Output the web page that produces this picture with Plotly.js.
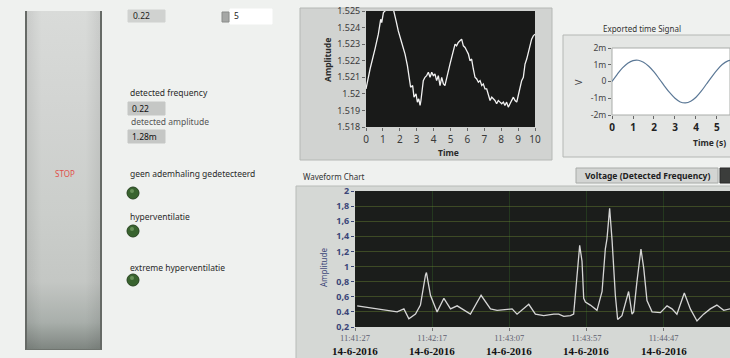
<!DOCTYPE html>
<html><head><meta charset="utf-8">
<script src="https://cdn.plot.ly/plotly-3.0.1.min.js"></script>
<style>
html,body{margin:0;padding:0;background:#eff1ef;width:730px;height:358px;overflow:hidden;}
#stop{position:absolute;left:25px;top:11px;width:77px;height:339px;box-sizing:border-box;border-left:2px solid #666a66;border-right:2px solid #666a66;border-bottom:1px solid #6f746f;
background:linear-gradient(to right,rgba(0,0,0,0.07),rgba(0,0,0,0) 20%,rgba(0,0,0,0) 80%,rgba(0,0,0,0.07)),
linear-gradient(to bottom,#d9dbd9 0%,#d2d4d2 30%,#cbcecb 60%,#c4c7c4 80%,#a9afab 92%,#7f8681 100%);}
#chart{position:absolute;left:0;top:0;width:730px;height:358px;}
</style></head><body>
<div id="stop"></div>
<div id="chart"></div>
<script>
// ---- Top graph: Amplitude vs Time ----
const topTime = [0.00,0.24,0.53,0.73,0.87,0.93,1.03,1.22,1.42,1.62,1.78,1.91,2.11,2.21,2.31,2.45,2.56,2.64,2.76,2.84,2.96,3.04,3.12,3.20,3.25,3.31,3.39,3.49,3.59,3.69,3.79,3.89,3.98,4.08,4.18,4.28,4.38,4.48,4.58,4.67,4.77,4.87,4.97,5.07,5.17,5.27,5.36,5.46,5.56,5.66,5.76,5.86,5.96,6.06,6.15,6.25,6.35,6.45,6.55,6.65,6.75,6.85,6.94,7.04,7.14,7.24,7.34,7.44,7.53,7.63,7.73,7.83,7.93,8.03,8.13,8.22,8.32,8.42,8.52,8.62,8.72,8.82,8.92,9.01,9.11,9.21,9.31,9.41,9.51,9.61,9.70,9.80,9.90,10.00];
const topAmp = [1.5203,1.5215,1.5227,1.5236,1.5245,1.5243,1.5249,1.5251,1.5256,1.5251,1.5244,1.5238,1.5231,1.5228,1.5224,1.5217,1.5208,1.5204,1.5205,1.5198,1.5200,1.5195,1.5197,1.5193,1.5196,1.5202,1.5208,1.5210,1.5211,1.5213,1.5210,1.5213,1.5211,1.5212,1.5208,1.5211,1.5205,1.5210,1.5206,1.5205,1.5210,1.5213,1.5218,1.5222,1.5227,1.5230,1.5229,1.5231,1.5232,1.5233,1.5229,1.5228,1.5226,1.5224,1.5220,1.5221,1.5215,1.5210,1.5209,1.5207,1.5208,1.5205,1.5206,1.5203,1.5203,1.5200,1.5196,1.5198,1.5197,1.5196,1.5194,1.5196,1.5195,1.5194,1.5195,1.5193,1.5195,1.5192,1.5194,1.5196,1.5198,1.5196,1.5195,1.5199,1.5204,1.5208,1.5210,1.5218,1.5221,1.5225,1.5229,1.5233,1.5235,1.5236];
const topXTicks = [0,1,2,3,4,5,6,7,8,9,10];
const topYTicks = [1.518,1.519,1.52,1.521,1.522,1.523,1.524,1.525];
const topYTickText = ["1.518","1.519","1.52","1.521","1.522","1.523","1.524","1.525"];

// ---- Exported time Signal ----
const expTime = [0,0.25,0.5,0.75,1.0,1.25,1.5,1.75,2.0,2.25,2.5,2.75,3.0,3.25,3.5,3.75,4.0,4.25,4.5,4.75,5.0,5.25,5.5,5.75];
const expVolt = [0,0.00043,0.00081,0.00109,0.00125,0.00127,0.00115,0.00091,0.00057,0.00016,-0.00027,-0.00067,-0.00100,-0.00122,-0.00128,-0.00118,-0.00094,-0.00058,-0.00015,0.00028,0.00068,0.00101,0.00122,0.00128];
const expXTicks = [0,1,2,3,4,5];
const expYTicks = [-0.002,-0.001,0,0.001,0.002];
const expYTickText = ["-2m","-1m","0","1m","2m"];

// ---- Waveform Chart ----
const waveSec = [1.4,23.0,27.3,31.7,34.9,39.2,42.4,45.7,46.3,48.9,53.2,57.6,61.9,66.2,70.5,74.8,81.7,87.8,92.1,98.6,101.8,105.0,112.6,116.9,122.3,128.8,132.0,135.3,139.6,141.7,143.9,145.6,147.1,148.2,149.3,152.5,156.8,160.1,162.2,163.3,165.0,166.6,168.7,170.2,173.0,177.3,179.5,180.6,182.7,185.3,187.1,189.2,192.5,197.9,202.2,205.4,208.6,213.4,217.3,221.6,225.9,230.2,234.5,238.9,243.2];
const waveAmp = [0.48,0.41,0.40,0.44,0.31,0.37,0.49,0.89,0.92,0.62,0.40,0.58,0.44,0.48,0.42,0.37,0.62,0.44,0.42,0.44,0.44,0.37,0.50,0.37,0.35,0.37,0.37,0.34,0.35,0.37,0.89,1.28,1.07,0.58,0.53,0.49,0.42,0.67,1.23,1.37,1.77,1.34,0.62,0.30,0.35,0.67,0.37,0.40,0.80,1.23,0.98,0.55,0.40,0.39,0.48,0.44,0.37,0.65,0.44,0.28,0.37,0.44,0.49,0.42,0.44];
const waveXTicks = [0,50,100,150,200,250];
const waveClock = ["11:41:27","11:42:17","11:43:07","11:43:57","11:44:47","11:45:37"];
const waveDate = ["14-6-2016","14-6-2016","14-6-2016","14-6-2016","14-6-2016","14-6-2016"];
const waveYTicks = [0.2,0.4,0.6,0.8,1,1.2,1.4,1.6,1.8,2];
const waveYTickText = ["0,2","0.4","0,6","0,8","1","1,2","1,4","1,6","1,8","2"];

// ---- Indicator values ----
const topControlValue = "0.22";
const topControlCount = "5";
const detectedFrequency = "0.22";
const detectedAmplitude = "1.28m";
const ledLabels = ["geen ademhaling gedetecteerd","hyperventilatie","extreme hyperventilatie"];

// ---- helpers (pixel -> paper) ----
const W = 730, H = 358;
const px = x => x / W;
const py = y => 1 - y / H;
const FONT = "Noto Sans, DejaVu Sans, sans-serif";

const traces = [
  {x: topTime, y: topAmp, xaxis: 'x', yaxis: 'y', mode: 'lines', type: 'scatter',
   line: {color: '#f2f2f2', width: 1.3}, hoverinfo: 'skip'},
  {x: expTime, y: expVolt, xaxis: 'x2', yaxis: 'y2', mode: 'lines', type: 'scatter',
   line: {color: '#5b7896', width: 1.2, shape: 'spline'}, hoverinfo: 'skip'},
  {x: waveSec, y: waveAmp, xaxis: 'x3', yaxis: 'y3', mode: 'lines', type: 'scatter',
   line: {color: '#d6d6d6', width: 1.3}, hoverinfo: 'skip'}
];

function rect(x0, y0, x1, y1, fill, line, lw) {
  return {type: 'rect', xref: 'paper', yref: 'paper', x0: px(x0), x1: px(x1), y0: py(y1), y1: py(y0),
    fillcolor: fill, line: {color: line || fill, width: lw === undefined ? 1 : lw}, layer: 'below'};
}
function led(cx, cy) {
  return [
    {type: 'circle', xref: 'paper', yref: 'paper', x0: px(cx - 6), x1: px(cx + 6), y0: py(cy + 6), y1: py(cy - 6),
     fillcolor: '#38632e', line: {color: '#26431f', width: 1}, layer: 'above'},
    {type: 'circle', xref: 'paper', yref: 'paper', x0: px(cx - 3), x1: px(cx + 1), y0: py(cy + 0), y1: py(cy - 4),
     fillcolor: 'rgba(150,190,130,0.5)', line: {width: 0}, layer: 'above'}
  ];
}

const shapes = [
  rect(300, 8, 552, 160, '#d1d3d1', '#b5b8b5'),
  {type: 'rect', xref: 'x domain', yref: 'y domain', x0: 0, x1: 1, y0: 0, y1: 1, fillcolor: '#191a19', line: {width: 0}, layer: 'below'},
  rect(563, 35, 736, 157, '#e4e6e4', '#b4b7b4'),
  {type: 'rect', xref: 'x2 domain', yref: 'y2 domain', x0: 0, x1: 1, y0: 0, y1: 1, fillcolor: '#ffffff', line: {color: '#a9aca9', width: 1}, layer: 'below'},
  rect(296, 186, 736, 362, '#d5d8d5', '#b8bbb8'),
  {type: 'rect', xref: 'x3 domain', yref: 'y3 domain', x0: 0, x1: 1, y0: 0, y1: 1, fillcolor: '#1b1d1b', line: {width: 0}, layer: 'below'},
  rect(576, 168, 718, 183, '#d3d5d3', '#a8aba8'),
  rect(720, 168, 736, 183, '#3b3d3b', '#2a2a2a'),
  rect(128, 10, 165, 22, '#d0d2d0', '#d0d2d0'),
  rect(230, 9, 272, 24, '#ffffff', '#ffffff'),
  rect(222, 12, 229, 22, '#a5a7a5', '#8a8c8a'),
  rect(128, 102, 165, 115, '#c5c7c5', '#c5c7c5'),
  rect(128, 130, 165, 143, '#c5c7c5', '#c5c7c5')
].concat(led(133, 193), led(133, 231), led(133, 280));

function ann(text, x, y, opts) {
  return Object.assign({text: text, x: px(x), y: py(y), xref: 'paper', yref: 'paper', showarrow: false,
    xanchor: 'left', yanchor: 'middle', font: {family: FONT, size: 8.5, color: '#2a2a2a'}}, opts || {});
}

const annotations = [
  ann(topControlValue, 131, 16, {font: {family: FONT, size: 8.5, color: '#222'}}),
  ann(topControlCount, 232, 15, {font: {family: FONT, size: 8.5, color: '#222'}}),
  ann("detected frequency", 128, 93),
  ann(detectedFrequency, 130, 108, {font: {family: FONT, size: 8.5, color: '#111'}}),
  ann("detected amplitude", 129, 121, {font: {family: FONT, size: 8.5, color: '#555'}}),
  ann(detectedAmplitude, 130, 136, {font: {family: FONT, size: 8.5, color: '#111'}}),
  ann("STOP", 65, 173, {xanchor: 'center', font: {family: FONT, size: 8, color: '#e0504a'}}),
  ann(ledLabels[0], 128, 173),
  ann(ledLabels[1], 128, 216),
  ann(ledLabels[2], 128, 267),
  ann("<b>Amplitude</b>", 328, 60, {xanchor: 'center', textangle: -90, font: {family: FONT, size: 8.5, color: '#2a2a2a'}}),
  ann("<b>Time</b>", 448, 152, {xanchor: 'center', font: {family: FONT, size: 8.5, color: '#2a2a2a'}}),
  ann("Exported time Signal", 642, 28, {xanchor: 'center', font: {family: FONT, size: 8, color: '#333'}}),
  ann("V", 578, 82, {xanchor: 'center', textangle: -90, font: {family: FONT, size: 9, color: '#444'}}),
  ann("<b>Time (s)</b>", 728, 142, {xanchor: 'right', font: {family: FONT, size: 8.5, color: '#2a2a2a'}}),
  ann("Waveform Chart", 301, 177, {font: {family: FONT, size: 8, color: '#333'}}),
  ann("<b>Voltage (Detected Frequency)</b>", 647, 175.5, {xanchor: 'center', font: {family: FONT, size: 8.5, color: '#222'}}),
  ann("Amplitude", 323, 268, {xanchor: 'center', textangle: -90, font: {family: FONT, size: 8, color: '#3b4678'}})
].concat(waveXTicks.map((t, i) => ({
  // second line of each time tick label: the date, placed on the chart's own x scale
  text: "<b>" + waveDate[i] + "</b>", x: t, xref: 'x3', y: py(350.5), yref: 'paper',
  showarrow: false, xanchor: 'center', yanchor: 'middle',
  font: {family: 'Liberation Serif, DejaVu Serif, serif', size: 11, color: '#111'}
})));

const layout = {
  width: W, height: H,
  margin: {l: 0, r: 0, t: 0, b: 0},
  paper_bgcolor: 'rgba(0,0,0,0)', plot_bgcolor: 'rgba(0,0,0,0)',
  showlegend: false,
  font: {family: FONT},
  xaxis: {domain: [px(366), px(535)], anchor: 'y', range: [0, 10], tickvals: topXTicks,
    ticks: 'outside', ticklen: 3, tickcolor: '#666', tickfont: {size: 10, color: '#3a3a3a'},
    showgrid: false, zeroline: false, showline: false, fixedrange: true},
  yaxis: {domain: [py(127), py(11)], anchor: 'x', range: [1.518, 1.525], tickvals: topYTicks, ticktext: topYTickText,
    ticks: 'outside', ticklen: 3, tickcolor: '#666', tickfont: {size: 9, color: '#3a3a3a'},
    showgrid: false, zeroline: false, showline: false, fixedrange: true},
  xaxis2: {domain: [px(612), 1], anchor: 'y2', range: [0, 5.62], tickvals: expXTicks,
    ticks: 'outside', ticklen: 3, tickcolor: '#666', tickfont: {size: 10, color: '#222', weight: 'bold'},
    showgrid: false, zeroline: false, showline: false, fixedrange: true},
  yaxis2: {domain: [py(115), py(48)], anchor: 'x2', range: [-0.002, 0.002], tickvals: expYTicks, ticktext: expYTickText,
    ticks: 'outside', ticklen: 3, tickcolor: '#666', tickfont: {size: 8.5, color: '#444'},
    showgrid: false, zeroline: false, showline: false, fixedrange: true},
  xaxis3: {domain: [px(355), 1], anchor: 'y3', range: [0, 243], tickvals: waveXTicks, ticktext: waveClock,
    ticks: 'outside', ticklen: 3, tickcolor: '#777',
    tickfont: {size: 8.5, color: '#5e6070', family: 'Liberation Serif, DejaVu Serif, serif'},
    showgrid: true, gridcolor: '#24381f', gridwidth: 1, zeroline: false, showline: false, fixedrange: true},
  yaxis3: {domain: [py(327), py(191)], anchor: 'x3', range: [0.2, 2], tickvals: waveYTicks, ticktext: waveYTickText,
    ticks: 'outside', ticklen: 3, tickcolor: '#3b4678', tickfont: {size: 9, color: '#3b4678', family: FONT, weight: 'bold'},
    showgrid: true, gridcolor: 'rgba(105,130,50,0.45)', gridwidth: 1, zeroline: false, showline: false, fixedrange: true},
  shapes: shapes,
  annotations: annotations
};

Plotly.newPlot('chart', traces, layout, {staticPlot: true, displayModeBar: false});
</script>
</body></html>
